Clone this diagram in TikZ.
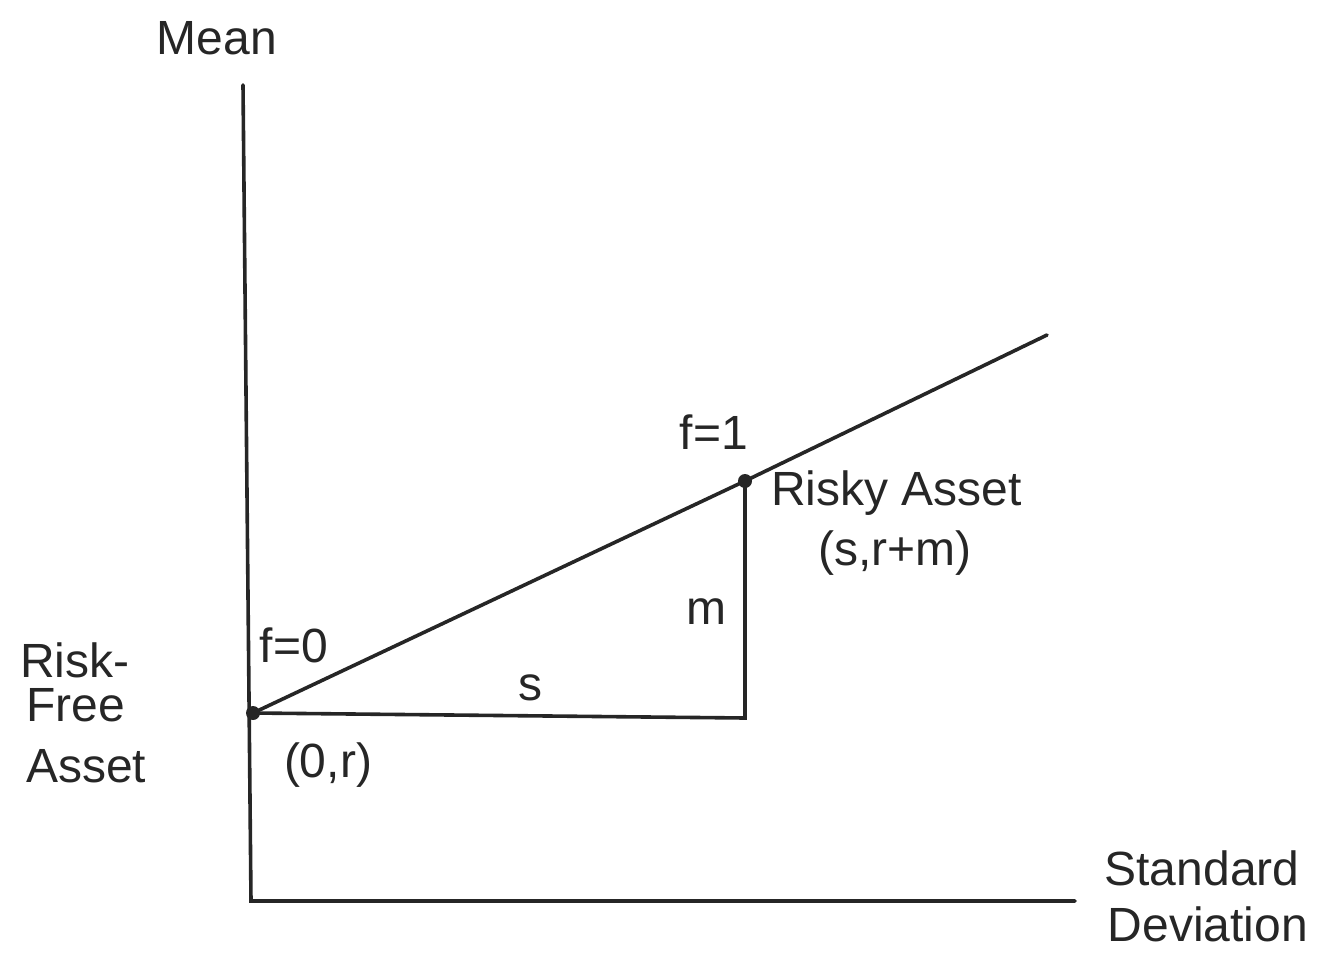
\documentclass[tikz,border=0pt]{standalone}
\usepackage{fontspec}
\setmainfont{Liberation Sans}
\begin{document}
\begin{tikzpicture}[x=1pt,y=-1pt,
  ln/.style={line width=3.6pt,line cap=round,black!85},
  dot/.style={circle,fill=black!85,inner sep=0pt,minimum size=14pt},
  lbl/.style={inner sep=0pt,font=\fontsize{48}{54}\selectfont,text=black!85}]
\useasboundingbox (0,0) rectangle (1317,955);
% axes
\coordinate (ytop) at (243,85);
\coordinate (origin) at (251,901);
\coordinate (xend) at (1075,901);
\draw[ln] (ytop) -- (origin) -- (xend);
% points
\node[dot] (rf) at (253,713) {};
\node[dot] (ra) at (745,481) {};
\coordinate (lend) at (1047,335);
\coordinate (corner) at (745,718);
\draw[ln] (rf.center) -- (ra.center) -- (lend);
\draw[ln] (rf.center) -- (corner) -- (ra.center);
% labels
\node[lbl] (mean) at (217,38) {Mean};
\node[lbl,anchor=west] (risk) at (20,660) {Risk-};
\node[lbl,anchor=west] (free) at (26,705) {Free};
\node[lbl,anchor=west] (asset) at (26,766) {Asset};
\node[lbl] (f0) at (294,645) {f=0};
\node[lbl] (zr) at (328,765) {(0,r)};
\node[lbl] (s) at (530,688) {s};
\node[lbl] (m) at (706,612) {m};
\node[lbl] (f1) at (714,432) {f=1};
\node[lbl,anchor=west] (risky) at (771,493) {Risky Asset};
\node[lbl] (srm) at (895,553) {(s,r+m)};
\node[lbl] (std) at (1202,868) {Standard};
\node[lbl] (dev) at (1208,924) {Deviation};
\end{tikzpicture}
\end{document}
